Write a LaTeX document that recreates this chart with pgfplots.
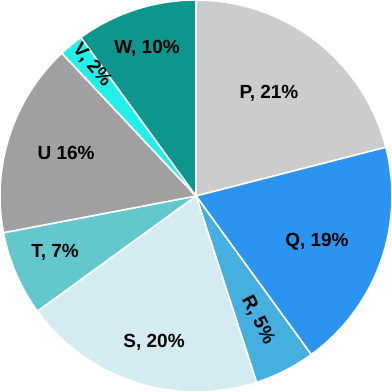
\documentclass[border=0pt]{standalone}
\usepackage{fontspec}
\setmainfont{Liberation Sans}
\usepackage{pgfplots}
\pgfplotsset{compat=1.18}
\definecolor{cP}{HTML}{CCCCCC}
\definecolor{cQ}{HTML}{2B94F0}
\definecolor{cR}{HTML}{45AFE0}
\definecolor{cS}{HTML}{D4ECF1}
\definecolor{cT}{HTML}{62C8CD}
\definecolor{cU}{HTML}{A0A0A0}
\definecolor{cV}{HTML}{20F0E8}
\definecolor{cW}{HTML}{0C968D}
\tikzset{lbl/.style={font=\fontsize{19}{21}\selectfont\bfseries, inner sep=0pt}}
\begin{document}
\begin{tikzpicture}
\begin{axis}[
  width=392pt, height=392pt, scale only axis,
  hide axis, xmin=-1, xmax=1, ymin=-1, ymax=1,
  samples=80,
  every axis plot/.append style={draw=white, line width=1.6pt, line join=round},
]
% shares: P 21, Q 19, R 5, S 20, T 7, U 16, V 2, W 10 (start at 90 deg, clockwise)
\addplot[fill=cP, domain=14.4:90] ({cos(x)},{sin(x)}) -- (axis cs:0,0) -- cycle;
\addplot[fill=cQ, domain=-54:14.4] ({cos(x)},{sin(x)}) -- (axis cs:0,0) -- cycle;
\addplot[fill=cR, domain=-72:-54] ({cos(x)},{sin(x)}) -- (axis cs:0,0) -- cycle;
\addplot[fill=cS, domain=-144:-72] ({cos(x)},{sin(x)}) -- (axis cs:0,0) -- cycle;
\addplot[fill=cT, domain=-169.2:-144] ({cos(x)},{sin(x)}) -- (axis cs:0,0) -- cycle;
\addplot[fill=cU, domain=-226.8:-169.2] ({cos(x)},{sin(x)}) -- (axis cs:0,0) -- cycle;
\addplot[fill=cV, domain=-234:-226.8] ({cos(x)},{sin(x)}) -- (axis cs:0,0) -- cycle;
\addplot[fill=cW, domain=-270:-234] ({cos(x)},{sin(x)}) -- (axis cs:0,0) -- cycle;
\node[lbl] at (axis cs:0.372,0.526) {P, 21\%};
\node[lbl] at (axis cs:0.617,-0.235) {Q, 19\%};
\node[lbl,rotate=-63] at (axis cs:0.316,-0.633) {R, 5\%};
\node[lbl] at (axis cs:-0.214,-0.745) {S, 20\%};
\node[lbl] at (axis cs:-0.719,-0.286) {T, 7\%};
\node[lbl] at (axis cs:-0.663,0.219) {U 16\%};
\node[lbl,rotate=-50] at (axis cs:-0.531,0.668) {V, 2\%};
\node[lbl] at (axis cs:-0.25,0.755) {W, 10\%};
\end{axis}
\end{tikzpicture}
\end{document}
